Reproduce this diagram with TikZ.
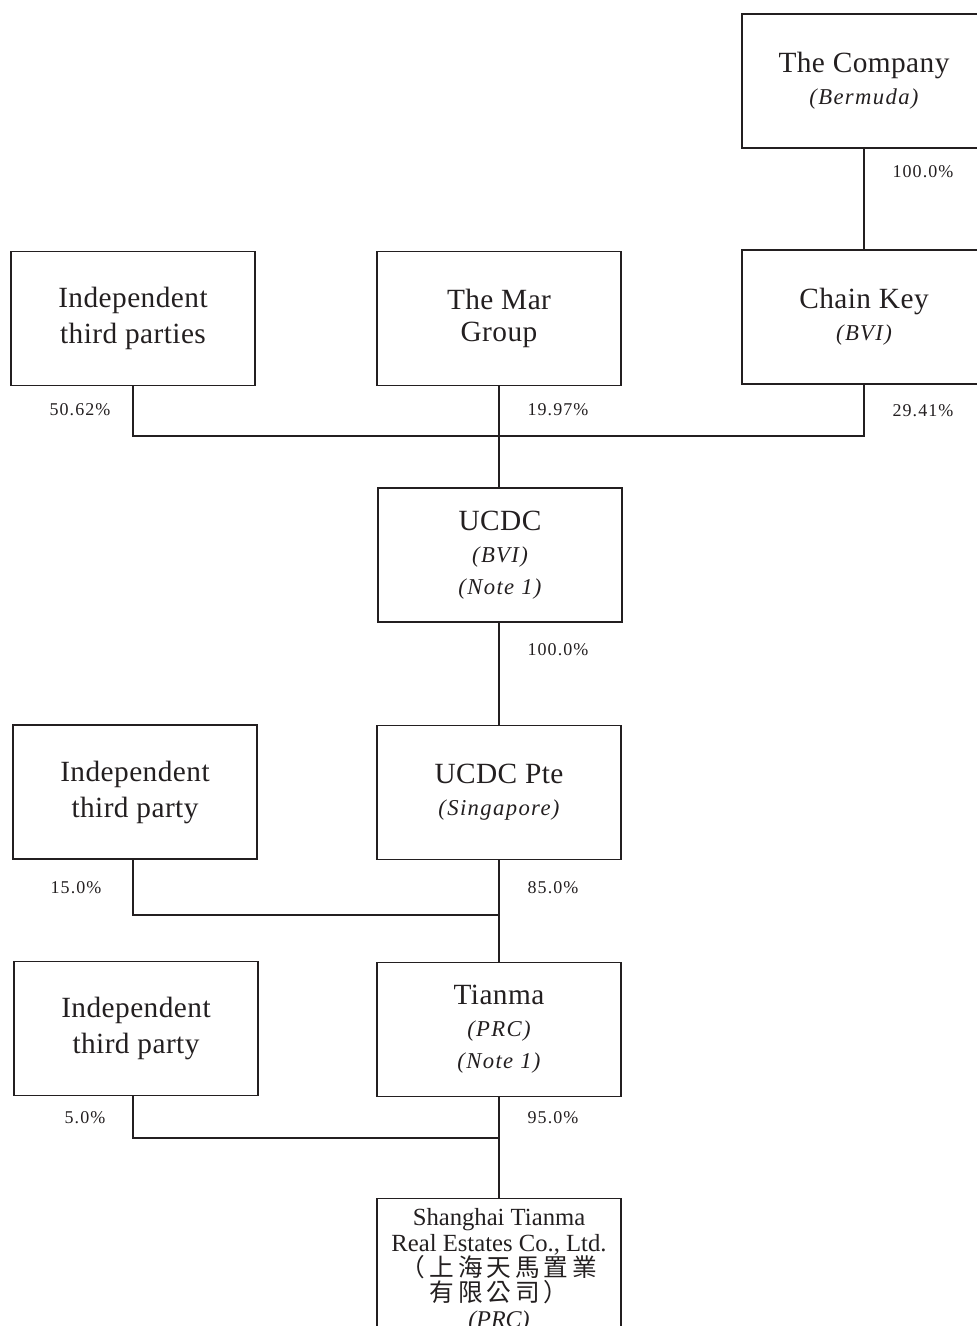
\documentclass[tikz,border=0pt]{standalone}
\usepackage{fontspec}
\setmainfont{Liberation Serif}
\newfontfamily\cjk{Noto Sans CJK TC}
\definecolor{ink}{HTML}{231F20}
\newcommand{\subit}[1]{{\fontsize{17}{24}\selectfont\itshape\addfontfeature{LetterSpace=6}#1}}
\begin{document}
\begin{tikzpicture}[x=0.75pt,y=-0.75pt,
  box/.style={draw=ink, line width=0.9pt, minimum width=183pt, minimum height=100.5pt, inner sep=0pt, align=center, text=ink,
    font=\fontsize{22}{24}\selectfont\addfontfeature{LetterSpace=1.5}},
  wide/.style={font=\fontsize{22}{27}\selectfont\addfontfeature{LetterSpace=1.5}},
  pct/.style={text=ink, inner sep=0pt, font=\fontsize{13.5}{16}\selectfont\addfontfeature{LetterSpace=6}},
  link/.style={draw=ink, line width=0.9pt}]
\useasboundingbox (0,0) rectangle (976,1326);
% boxes
\node[box] (co) at (864,81) {The Company\\\subit{(Bermuda)}};
\node[box, wide] (itp1) at (133,318.5) {Independent\\third parties};
\node[box] (mar) at (499,318.5) {The Mar\\Group};
\node[box] (ck) at (864,317) {Chain Key\\\subit{(BVI)}};
\node[box] (ucdc) at (500,555) {UCDC\\\subit{(BVI)}\\\subit{(Note 1)}};
\node[box, wide] (itp2) at (135,792) {Independent\\third party};
\node[box] (pte) at (499,792.5) {UCDC Pte\\\subit{(Singapore)}};
\node[box, wide] (itp3) at (136,1028.5) {Independent\\third party};
\node[box] (tm) at (499,1029.5) {Tianma\\\subit{(PRC)}\\\subit{(Note 1)}};
\node[box, anchor=north, minimum height=108pt, font=\fontsize{18.5}{19}\selectfont] (sh) at (499,1198)
  {Shanghai Tianma\\Real Estates Co., Ltd.\\{\cjk\fontsize{18.5}{19}\selectfont\addfontfeature{LetterSpace=16}（上海天馬置業}\\{\cjk\fontsize{18.5}{19}\selectfont\addfontfeature{LetterSpace=16}有限公司）}\\{\fontsize{18}{19}\selectfont\itshape (PRC)}};
% junctions
\coordinate (j1) at (499,436);
\coordinate (j2) at (499,915);
\coordinate (j3) at (499,1138);
\coordinate (l) at (133,0);
% connectors
\draw[link] (co.south) -- (ck.north);
\draw[link] (itp1.south) |- (j1);
\draw[link] (ck.south) |- (j1);
\draw[link] (mar.south) -- (j1) -- (ucdc.north -| j1);
\draw[link] (ucdc.south -| mar.south) -- (pte.north);
\draw[link] (itp2.south -| l) |- (j2);
\draw[link] (pte.south) -- (j2) -- (tm.north);
\draw[link] (itp3.south -| l) |- (j3);
\draw[link] (tm.south) -- (j3) -- (sh.north);
% labels
\node[pct] (p1) at (923,172) {100.0\%};
\node[pct] (p2) at (80,410) {50.62\%};
\node[pct] (p3) at (558,410) {19.97\%};
\node[pct] (p4) at (923,411) {29.41\%};
\node[pct] (p5) at (558,650) {100.0\%};
\node[pct] (p6) at (76,888) {15.0\%};
\node[pct] (p7) at (553,888) {85.0\%};
\node[pct] (p8) at (85,1118) {5.0\%};
\node[pct] (p9) at (553,1118) {95.0\%};
\end{tikzpicture}
\end{document}
